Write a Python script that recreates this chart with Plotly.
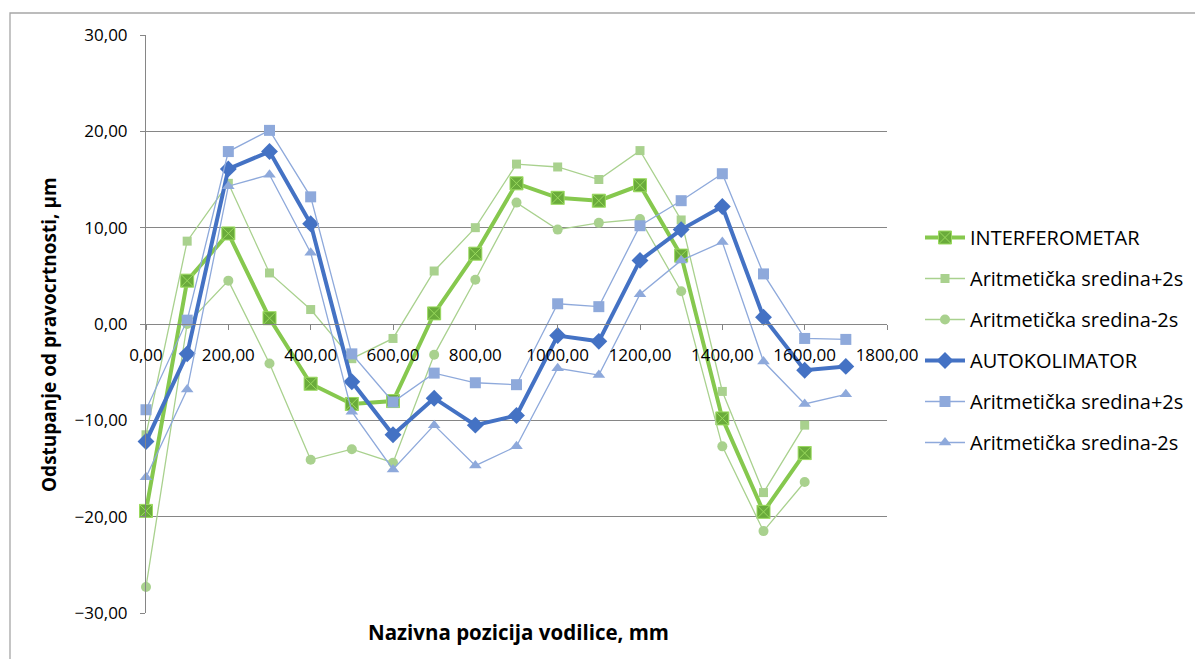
import plotly.graph_objects as go

positions = [0, 100, 200, 300, 400, 500, 600, 700, 800, 900, 1000, 1100, 1200, 1300, 1400, 1500, 1600, 1700]

interferometar = [-19.4, 4.5, 9.4, 0.6, -6.2, -8.3, -8.0, 1.1, 7.3, 14.6, 13.1, 12.8, 14.4, 7.1, -9.8, -19.5, -13.4]
interf_plus = [-11.5, 8.6, 14.6, 5.3, 1.5, -3.6, -1.5, 5.5, 10.0, 16.6, 16.3, 15.0, 18.0, 10.8, -7.0, -17.5, -10.5]
interf_minus = [-27.3, 0.0, 4.5, -4.1, -14.1, -13.0, -14.4, -3.2, 4.6, 12.6, 9.8, 10.5, 10.9, 3.4, -12.7, -21.5, -16.4]

autokolimator = [-12.2, -3.1, 16.1, 17.9, 10.4, -6.0, -11.5, -7.7, -10.5, -9.5, -1.2, -1.8, 6.6, 9.8, 12.2, 0.7, -4.8, -4.4]
auto_plus = [-8.9, 0.4, 17.9, 20.1, 13.2, -3.1, -8.1, -5.1, -6.1, -6.3, 2.1, 1.8, 10.2, 12.8, 15.6, 5.2, -1.5, -1.6]
auto_minus = [-15.9, -6.8, 14.3, 15.5, 7.4, -9.1, -15.1, -10.5, -14.7, -12.7, -4.6, -5.3, 3.1, 6.6, 8.5, -3.9, -8.3, -7.3]

names = ["INTERFEROMETAR", "Aritmetička sredina+2s", "Aritmetička sredina-2s",
         "AUTOKOLIMATOR", "Aritmetička sredina+2s", "Aritmetička sredina-2s"]

FONT = "Open Sans"
grid = "#868686"

fig = go.Figure()

def add(y, name, lc, lw, sym, ms, mc, mlc, mlw, grp):
    fig.add_trace(go.Scatter(
        x=positions[:len(y)], y=y, name=name, mode="lines+markers",
        line=dict(color=lc, width=lw),
        marker=dict(symbol=sym, size=ms, color=mc, line=dict(color=mlc, width=mlw)),
        cliponaxis=False, legendgroup=grp))

add(interferometar, names[0], "#86C84E", 4, "square-x", 13, "#6AAB3B", "#9ADA5E", 1, "g1")
add(interf_plus, names[1], "#A9D18E", 1.3, "square", 9, "#A9D18E", "#A9D18E", 0, "g2")
add(interf_minus, names[2], "#A9D18E", 1.3, "circle", 10, "#A9D18E", "#A9D18E", 0, "g3")
add(autokolimator, names[3], "#4472C4", 4, "diamond", 13, "#4472C4", "#4472C4", 0, "g4")
add(auto_plus, names[4], "#8EA9DB", 1.3, "square", 11, "#8EA9DB", "#8EA9DB", 0, "g5")
add(auto_minus, names[5], "#8EA9DB", 1.3, "triangle-up", 11, "#8EA9DB", "#8EA9DB", 0, "g6")

# page offset (browser body margin)
OFF = 8
W, H = 1203 - OFF, 659 - OFF
PL, PR, PT, PB = 146, 887, 35, 613  # plot area in page pixels
L, T = PL - OFF, PT - OFF
R, B = W - (PR - OFF), H - (PB - OFF)
pw, ph = PR - PL, PB - PT

def px(x):
    return (x - PL) / pw

def py(y):
    return (PB - y) / ph

fig.update_layout(
    width=W, height=H,
    margin=dict(l=L, r=R, t=T, b=B),
    plot_bgcolor="white", paper_bgcolor="white",
    separators=",.",
    font=dict(family=FONT, size=17, color="#000000"),
    showlegend=True,
    legend=dict(x=px(920), y=py(340), xanchor="left", yanchor="middle",
                font=dict(family=FONT, size=20, color="#000000"),
                tracegroupgap=12, itemwidth=40, bgcolor="rgba(0,0,0,0)"),
    xaxis=dict(range=[0, 1800], dtick=200, tick0=0, tickformat=".2f",
               showgrid=False, zeroline=False, showline=True, linecolor=grid, linewidth=1,
               ticks="outside", ticklen=5, tickcolor=grid,
               anchor="free", position=0.5, ticklabelstandoff=11,
               tickfont=dict(family=FONT, size=17)),
    yaxis=dict(range=[-30, 30], dtick=10, tick0=-30, tickformat=".2f",
               showgrid=True, gridcolor=grid, gridwidth=1, zeroline=False,
               showline=True, linecolor=grid, linewidth=1,
               ticks="outside", ticklen=5, tickcolor=grid, ticklabelstandoff=9,
               tickfont=dict(family=FONT, size=17)),
    annotations=[
        dict(text="<b>Odstupanje od pravocrtnosti, µm</b>", xref="paper", yref="paper",
             x=px(49), y=py(335), textangle=-90, showarrow=False,
             font=dict(family=FONT, size=19), xanchor="center", yanchor="middle"),
        dict(text="<b>Nazivna pozicija vodilice, mm</b>", xref="paper", yref="paper",
             x=px(518), y=py(632), showarrow=False,
             font=dict(family=FONT, size=20.5), xanchor="center", yanchor="middle"),
    ],
    shapes=[dict(type="rect", xref="paper", yref="paper",
                 x0=px(10), y0=py(H + 40), x1=px(1240), y1=py(13),
                 line=dict(color="#A6A6A6", width=1.3), layer="below")],
)

fig.write_html("out.html")
